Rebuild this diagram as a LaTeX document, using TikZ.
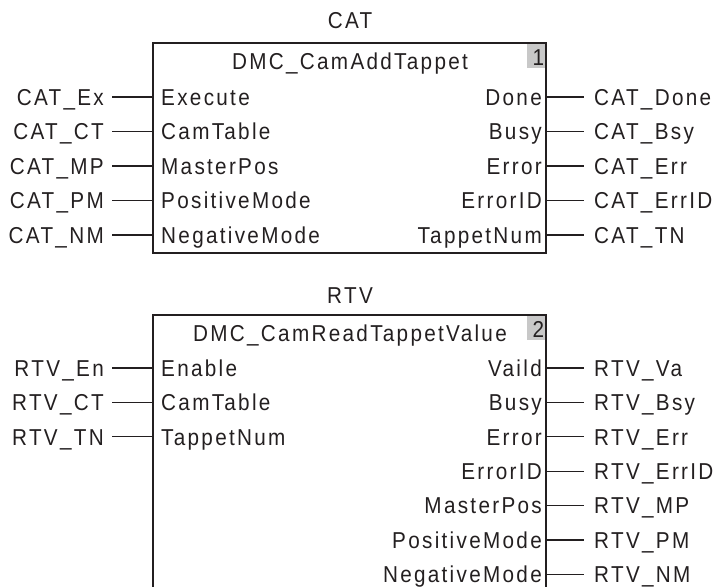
\documentclass[tikz,border=0pt]{standalone}
\usepackage{fontspec}
\setmainfont{Liberation Sans}[LetterSpace=10,FakeStretch=0.9]
\definecolor{ink}{HTML}{231F20}
\definecolor{numgray}{HTML}{C8C8C8}
\begin{document}
\begin{tikzpicture}[x=1pt,y=-1pt,
  font=\fontsize{23}{27}\selectfont, text=ink,
  lbl/.style={inner ysep=0pt, text height=16.5pt, text depth=0pt},
  inl/.style={lbl, anchor=east, inner xsep=8pt},
  outl/.style={lbl, anchor=west, inner xsep=10pt},
  pinl/.style={lbl, anchor=west, inner xsep=8pt},
  pinr/.style={lbl, anchor=east, inner xsep=4pt},
  wire/.style={draw=ink, line width=1.2pt},
  fb/.style={draw=ink, line width=1.4pt},
  numbox/.style={fill=numgray, inner sep=0pt, minimum width=18pt, minimum height=24pt, anchor=north east}]
\useasboundingbox (0,0) rectangle (716,587);
% ---------- CAT ----------
\node[lbl] (catT) at (350,20) {CAT};
\draw[fb] (153,43) rectangle (546,253);
\node[numbox] (n1) at (545.3,43.7) {};
\node[lbl, anchor=east, inner xsep=1pt] (n1t) at ([yshift=-1pt]n1.east) {1};
\node[lbl] (catH) at (350,61) {DMC\_CamAddTappet};
\foreach \i/\l/\p/\o/\q/\r in {0/CAT\_Ex/Execute/Done/Done/CAT\_Done,
  1/CAT\_CT/CamTable/Busy/Busy/CAT\_Bsy,
  2/CAT\_MP/MasterPos/Error/Error/CAT\_Err,
  3/CAT\_PM/PositiveMode/ErrorID/ErrorID/CAT\_ErrID,
  4/CAT\_NM/NegativeMode/TappetNum/TappetNum/CAT\_TN}{
  \pgfmathsetmacro\yy{97+34.5*\i}
  \node[inl] (ci\i) at (112,\yy) {\l};
  \node[pinl] (cp\i) at (153,\yy) {\p};
  \node[pinr] (cq\i) at (546,\yy) {\q};
  \node[outl] (co\i) at (584,\yy) {\r};
  \draw[wire] (ci\i.east) -- (cp\i.west);
  \draw[wire] (cq\i.east) -- (co\i.west);
}
% ---------- RTV ----------
\node[lbl] (rtvT) at (350,295) {RTV};
\draw[fb] (153,590) -- (153,315) -- (546,315) -- (546,590);
\node[numbox] (n2) at (545.3,315.7) {};
\node[lbl, anchor=east, inner xsep=1pt] (n2t) at ([yshift=-1pt]n2.east) {2};
\node[lbl] (rtvH) at (350,333) {DMC\_CamReadTappetValue};
\foreach \i/\l/\p in {0/RTV\_En/Enable, 1/RTV\_CT/CamTable, 2/RTV\_TN/TappetNum}{
  \pgfmathsetmacro\yy{368+34.4*\i}
  \node[inl] (ri\i) at (112,\yy) {\l};
  \node[pinl] (rp\i) at (153,\yy) {\p};
  \draw[wire] (ri\i.east) -- (rp\i.west);
}
\foreach \i/\q/\r in {0/Vaild/RTV\_Va, 1/Busy/RTV\_Bsy, 2/Error/RTV\_Err,
  3/ErrorID/RTV\_ErrID, 4/MasterPos/RTV\_MP, 5/PositiveMode/RTV\_PM,
  6/NegativeMode/RTV\_NM}{
  \pgfmathsetmacro\yy{368+34.4*\i}
  \node[pinr] (rq\i) at (546,\yy) {\q};
  \node[outl] (ro\i) at (584,\yy) {\r};
  \draw[wire] (rq\i.east) -- (ro\i.west);
}
\end{tikzpicture}
\end{document}
